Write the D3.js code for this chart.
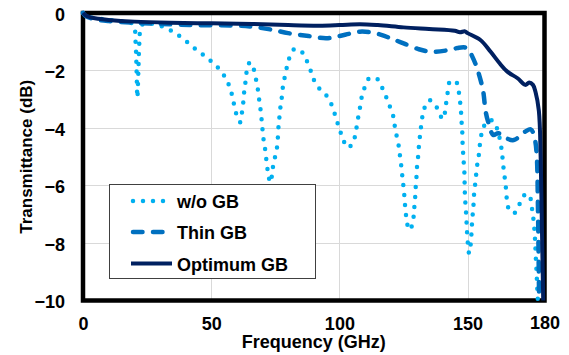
<!DOCTYPE html>
<html lang="en">
	<head>
		<meta charset="utf-8">
		<title>transmittance</title>
		<script type="text/javascript" src="https://d3js.org/d3.v7.min.js"></script>
		<style type="text/css">
			body {
			  margin: 0;
			  background: #fff;
			}
			text {
			  font-family: "Liberation Sans", Arial, sans-serif;
			  font-weight: bold;
			  fill: #000;
			}
			.grid line {
			  stroke: #d9d9d9;
			  stroke-width: 1;
			  shape-rendering: crispEdges;
			}
		</style>
	</head>
	<body>
		<script type="text/javascript">

			// optimum guard band (solid navy)
			var optFreq = [0, 1, 3, 6, 10, 20, 34, 50, 66, 80, 92, 100, 108, 115, 125, 135, 145, 147, 149, 150,
			               155, 159, 162.5, 165.5, 169.5, 172.5, 174, 175.5, 176.5, 177.8, 178.5, 179, 179.5];
			var optVal  = [0, -0.08, -0.15, -0.2, -0.24, -0.3, -0.34, -0.36, -0.38, -0.42, -0.44, -0.42, -0.39, -0.42, -0.5, -0.56, -0.62, -0.67, -0.64, -0.7,
			               -0.94, -1.35, -1.75, -2.04, -2.27, -2.5, -2.42, -2.5, -2.75, -3.4, -5, -7.5, -10];

			// thin guard band (dashed)
			var thinFreq = [0, 1, 3, 6, 10, 20, 30, 44, 60, 66, 73, 80, 88, 95, 100, 104, 108, 112, 116, 120, 124, 131, 136, 142, 146, 149,
			                150.5, 151.5, 153.5, 156, 157, 158, 160, 162, 165, 168, 172.4, 174.7, 176.3, 177, 177.4, 177.7, 177.9];
			var thinVal  = [0, -0.1, -0.18, -0.24, -0.28, -0.34, -0.38, -0.42, -0.44, -0.48, -0.57, -0.7, -0.8, -0.88, -0.8, -0.72, -0.65, -0.67, -0.75, -0.88, -1.02, -1.26, -1.35, -1.3, -1.22, -1.2,
			                -1.28, -1.45, -1.87, -2.68, -3.4, -3.78, -4.24, -4.18, -4.35, -4.42, -4.13, -4.05, -4.42, -5, -6.5, -8.5, -10];

			// without guard band (dotted)
			var woFreq = [0, 3, 8, 14, 18, 19.8, 20.5, 20.9, 21.2, 21.6, 22, 22.5, 23.5, 26, 30, 33.5, 36.6, 39.7, 42.7, 45.8, 48.7,
			              51.4, 54, 56, 57.5, 58.4, 59.2, 60.2, 61.3, 62, 62.5, 62.8, 63.3, 63.7, 64.4, 65.3, 66.3, 67.2, 68, 68.5, 69,
			              69.5, 69.8, 70.2, 70.6, 71.3, 71.6, 72.2, 73, 73.8, 74.3, 75.3, 75.8, 76.3, 76.7, 77.1, 77.6, 78, 78.7, 79.5,
			              80.4, 82.5, 85.5, 87.3, 88.7, 89.9, 91.7, 94.5, 96.5, 97.9, 99, 100.1, 101.4, 103.1, 105.3, 106.2, 106.9, 107.5,
			              108.2, 108.8, 110, 111.8, 114.9, 116.7, 118.3, 119.6, 120.9, 121.5, 122.2, 123, 123.5, 124, 124.4, 124.8, 125.2,
			              125.5, 125.8, 126.3, 127.1, 128.6, 129, 129.3, 129.6, 129.8, 130.1, 130.3, 130.7, 131, 131.4, 131.8, 132.3, 133.1,
			              135, 137.6, 139.2, 140.6, 141.3, 141.8, 142.4, 143.2, 145.5, 146.5, 147, 147.4, 147.6, 147.9, 148, 148.2, 148.4,
			              148.7, 148.8, 148.9, 149, 149.3, 149.5, 149.7, 149.9, 150.6, 151.2, 151.5, 151.7, 152, 152.3, 152.5, 152.9, 153.3,
			              153.7, 154.3, 154.7, 155.2, 156, 158.5, 160.5, 161.8, 162.7, 163.3, 163.7, 164.1, 164.6, 165, 165.3, 166, 168,
			              170, 171.4, 173.8, 174.9, 175.3, 175.9, 176.1, 176.4, 176.5, 176.9, 177.2, 177.4];
			var woVal  = [0, -0.15, -0.22, -0.28, -0.32, -0.42, -1.0, -2.0, -2.95, -2.0, -1.0, -0.5, -0.38, -0.36, -0.44, -0.57, -0.74, -0.94, -1.17, -1.38, -1.58,
			              -1.79, -2.04, -2.33, -2.65, -2.97, -3.3, -3.63, -3.8, -3.46, -3.12, -2.8, -2.45, -2.12, -1.79, -1.72, -1.87, -2.2, -2.54, -2.88, -3.2,
			              -3.55, -3.87, -4.2, -4.53, -4.88, -5.22, -5.55, -5.9, -5.6, -5.2, -4.88, -4.57, -3.9, -3.55, -3.2, -2.89, -2.54, -2.22, -1.89,
			              -1.58, -1.25, -1.37, -1.67, -1.98, -2.3, -2.58, -2.82, -3.1, -3.43, -3.75, -4.05, -4.38, -4.68, -4.53, -4.22, -3.87, -3.55,
			              -3.21, -2.89, -2.56, -2.26, -2.3, -2.6, -2.93, -3.23, -3.55, -3.88, -4.22, -4.55, -4.88, -5.22, -5.55, -5.88, -6.22,
			              -6.56, -6.89, -7.22, -7.55, -7.34, -7.0, -6.68, -6.35, -6.0, -5.66, -5.32, -5.0, -4.65, -4.3, -3.99, -3.64, -3.32,
			              -3.03, -3.23, -3.55, -3.69, -3.35, -3.03, -2.68, -2.37, -2.39, -2.71, -3.03, -3.37, -3.72, -4.07, -4.42, -4.77, -5.09,
			              -5.43, -5.77, -6.1, -6.45, -6.77, -7.11, -7.45, -7.78, -8.36, -8.05, -7.69, -7.35, -7.0, -6.68, -6.33, -6.0, -5.66,
			              -5.32, -5.0, -4.65, -4.33, -4.0, -3.72, -3.8, -4.13, -4.44, -4.77, -5.11, -5.46, -5.81, -6.13, -6.47, -6.8, -6.97,
			              -6.7, -6.39, -6.3, -6.62, -6.97, -7.3, -7.64, -7.98, -8.3, -9.0, -9.64, -10];

			var xTicks = [0, 50, 100, 150, 180];
			var yTicks = [0, -2, -4, -6, -8, -10];
			var xGrid = [50, 100, 150];
			var yGrid = [-2, -4, -6, -8];
			var seriesNames = ["w/o GB", "Thin GB", "Optimum GB"];

			var w = 569;
			var h = 355;
			var plotL = 83, plotR = 544.5, plotT = 13, plotB = 300.5;

			var x = d3.scaleLinear().domain([0, 180]).range([plotL, plotR]);
			var y = d3.scaleLinear().domain([-10, 0]).range([plotB, plotT]);

			var svg = d3.select("body").append("svg")
				.attr("width", w)
				.attr("height", h);

			// grid
			var grid = svg.append("g").attr("class", "grid");
			grid.selectAll(".gx")
				.data(xGrid)
				.enter()
				.append("line")
				.attr("x1", function(d) { return Math.round(x(d)) + 0.5; })
				.attr("x2", function(d) { return Math.round(x(d)) + 0.5; })
				.attr("y1", plotT)
				.attr("y2", plotB);
			grid.selectAll(".gy")
				.data(yGrid)
				.enter()
				.append("line")
				.attr("x1", plotL)
				.attr("x2", plotR)
				.attr("y1", function(d) { return Math.round(y(d)) + 0.5; })
				.attr("y2", function(d) { return Math.round(y(d)) + 0.5; });

			// frame
			svg.append("rect")
				.attr("x", plotL)
				.attr("y", plotT)
				.attr("width", plotR - plotL)
				.attr("height", plotB - plotT)
				.attr("fill", "none")
				.attr("stroke", "#000")
				.attr("stroke-width", 4.5);

			function pairs(f, v) {
				return f.map(function(d, i) { return [d, v[i]]; });
			}

			var line = d3.line()
				.x(function(d) { return x(d[0]); })
				.y(function(d) { return y(d[1]); })
				.curve(d3.curveCatmullRom.alpha(0.5));

			var styles = [
				{color: "#00b0f0", width: 4.5, dash: "0 10", cap: "round"},
				{color: "#0070c0", width: 4.5, dash: "9.5 10.5", cap: "round"},
				{color: "#002060", width: 4, dash: null, cap: "butt"}
			];

			var series = [pairs(woFreq, woVal), pairs(thinFreq, thinVal), pairs(optFreq, optVal)];

			svg.selectAll(".series")
				.data(series)
				.enter()
				.append("path")
				.attr("class", "series")
				.attr("d", line)
				.attr("fill", "none")
				.attr("stroke", function(d, i) { return styles[i].color; })
				.attr("stroke-width", function(d, i) { return styles[i].width; })
				.attr("stroke-dasharray", function(d, i) { return styles[i].dash; })
				.attr("stroke-linecap", function(d, i) { return styles[i].cap; })
				.attr("stroke-linejoin", "round");

			// axes
			var xAxis = svg.append("g")
				.attr("transform", "translate(0," + plotB + ")")
				.call(d3.axisBottom(x).tickValues(xTicks).tickSize(0).tickPadding(17));
			xAxis.select(".domain").remove();
			xAxis.selectAll("text")
				.style("font-size", "18px")
				.style("font-family", "'Liberation Sans', Arial, sans-serif")
				.attr("dy", function(d) { return d == 180 ? "0.62em" : "0.71em"; });

			var yAxis = svg.append("g")
				.attr("transform", "translate(" + plotL + ",0)")
				.call(d3.axisLeft(y).tickValues(yTicks).tickSize(0).tickPadding(18));
			yAxis.select(".domain").remove();
			yAxis.selectAll("text")
				.style("font-size", "18px")
				.style("font-family", "'Liberation Sans', Arial, sans-serif")
				.attr("dy", "0.4em");

			svg.append("text")
				.text("Frequency (GHz)")
				.attr("x", (plotL + plotR) / 2)
				.attr("y", 348)
				.attr("text-anchor", "middle")
				.style("font-size", "18px");

			svg.append("text")
				.text("Transmittance (dB)")
				.attr("transform", "translate(32," + (plotT + plotB) / 2 + ") rotate(-90)")
				.attr("text-anchor", "middle")
				.style("font-size", "17px");

			// legend
			var legend = svg.append("g");
			legend.append("rect")
				.attr("x", 109.5)
				.attr("y", 184.5)
				.attr("width", 206)
				.attr("height", 94)
				.attr("fill", "#fff")
				.attr("stroke", "#404040")
				.attr("stroke-width", 1);

			var rows = legend.selectAll(".row")
				.data(seriesNames)
				.enter()
				.append("g")
				.attr("transform", function(d, i) { return "translate(0," + [201, 232, 263.5][i] + ")"; });

			rows.append("line")
				.attr("x1", function(d, i) { return i == 2 ? 131 : 133; })
				.attr("x2", 172)
				.attr("y1", 0)
				.attr("y2", 0)
				.attr("stroke", function(d, i) { return styles[i].color; })
				.attr("stroke-width", function(d, i) { return styles[i].width; })
				.attr("stroke-dasharray", function(d, i) { return styles[i].dash; })
				.attr("stroke-linecap", function(d, i) { return styles[i].cap; });

			rows.append("text")
				.text(function(d) { return d; })
				.attr("x", 177)
				.attr("y", 7)
				.style("font-size", "18px");

		</script>
	</body>
</html>
